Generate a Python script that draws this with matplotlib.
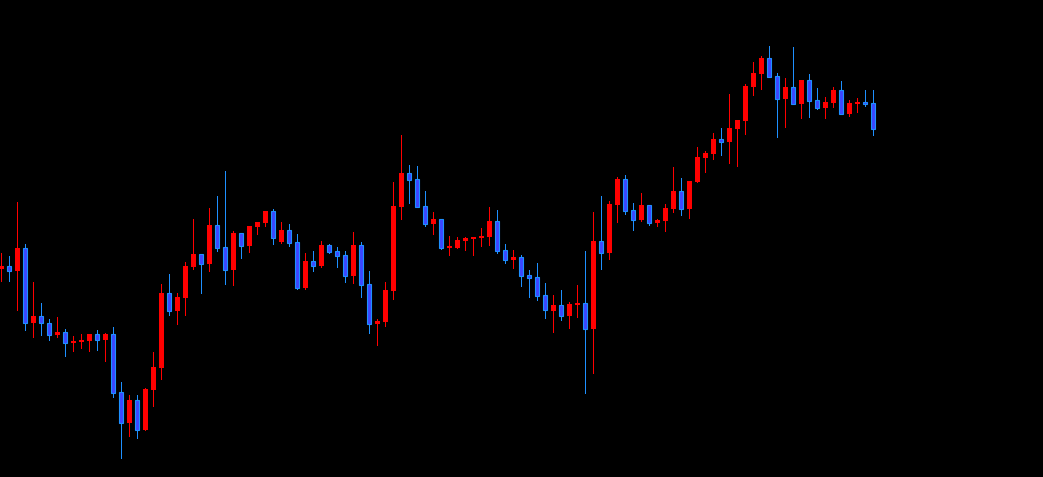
import matplotlib
matplotlib.use('Agg')
import matplotlib.pyplot as plt

# Candle data (price units), one entry per bar
opens = [208, 211, 206.3, 229, 154.3, 161, 153.7, 142.3, 145, 134.3,
         135.3, 136.3, 143, 137.3, 143, 85, 54.3, 77, 47.3, 87.3,
         109.3, 184, 166.3, 179.3, 210.3, 223, 213.3, 252, 229.7, 207.3,
         244, 231.3, 250.3, 254.3, 266, 235.3, 247, 235, 189.3, 216,
         211.3, 232, 226.3, 222, 201.3, 232, 193, 153.3, 155.3, 186.3,
         270.3, 304, 298, 271, 253.3, 258, 229.3, 229.3, 236.3, 238.3,
         239.3, 240.3, 256, 227, 217.3, 220, 202, 200, 182, 166.3,
         172, 161.3, 172.3, 174, 148.3, 236, 224.3, 272.3, 298, 267,
         257.3, 272, 254.3, 256.3, 268.3, 286, 268.3, 295.3, 319.3, 323.3,
         338, 335.3, 348.3, 356.3, 390.3, 403.3, 419, 401, 378.3, 390,
         373.3, 397, 377, 369.3, 374.3, 387, 363.3, 373.3, 375.3, 374]
highs = [224, 221, 275, 233, 195, 174, 157.7, 160.3, 147.7, 141,
         143, 143, 147, 143.7, 150, 95, 82, 82, 89, 125,
         193, 203, 184, 215, 258, 223, 269, 281, 306, 246,
         244, 251, 255, 266, 268, 255, 253, 243, 224, 226,
         236, 233, 230, 226, 245, 235, 206, 158, 195, 295,
         342, 312, 311, 286, 265, 258, 241, 240, 240, 240,
         249, 270, 267, 233, 227, 222, 207.3, 214, 194, 182,
         187, 175, 192, 226, 265, 281, 276, 300, 302, 274,
         284, 272, 258.3, 273, 310, 299, 296, 330, 326, 344,
         349, 383, 357, 393, 415, 421, 431, 404, 399, 430,
         397, 403, 389, 380, 390, 396, 377, 379, 387, 387]
lows = [196.3, 196.3, 167, 147, 140.3, 142, 137, 139.7, 121.3, 126,
        129, 126, 127.3, 116, 80.3, 19.3, 41.3, 39.3, 47.3, 71.3,
        98.3, 162.3, 153.3, 162.3, 208, 184.3, 206.3, 226.3, 193.3, 192.3,
        219.3, 225.3, 243.3, 251.3, 233.3, 234.3, 231.3, 188.3, 188.3, 206.3,
        210.3, 224.3, 210.3, 195.3, 194.3, 180.3, 144.3, 132.3, 151.3, 178.3,
        258.3, 274.3, 270.3, 251.3, 243.3, 228.3, 222.3, 229.3, 227.3, 222.3,
        231.3, 232.3, 224.3, 214.3, 209.3, 191.3, 180.3, 177.3, 159.3, 145.3,
        157.3, 149.3, 160.3, 84.3, 104.3, 208.3, 218.3, 255.3, 263.3, 247.3,
        256.3, 252.3, 251.3, 246.3, 265.3, 262.3, 259.3, 295.3, 305.3, 318.3,
        322.3, 314.3, 311.3, 343.3, 382.3, 388.3, 400.3, 340.3, 350.3, 373.3,
        359.3, 360.3, 368.3, 359.3, 370.3, 363.3, 361.3, 365.3, 371.3, 342.3]
closes = [211, 206.3, 229, 154.3, 161, 153.7, 142.3, 145, 134.3, 136.3,
          137.3, 143, 137.3, 143, 84.3, 54.3, 77, 47.3, 88, 110,
          184, 166.3, 180, 211, 223, 213.3, 252, 229.3, 207.3, 244,
          231.3, 251, 255, 266, 239.3, 247, 234.3, 189.3, 216, 211.3,
          232, 225.3, 221.3, 201.3, 232, 192.3, 153.3, 156, 187, 271,
          304, 297.3, 270.3, 253.3, 258, 229.3, 230, 237, 239, 240,
          241, 256, 226.3, 217.3, 220, 201.3, 199.3, 181.3, 166.7, 172,
          161.3, 173, 174, 148.3, 236, 224.3, 273, 298, 266.3, 257.3,
          272, 254.3, 257.3, 269, 286, 268.3, 296, 320, 324, 338,
          335.3, 349, 357, 391, 404, 419, 400.3, 378.3, 390, 373.3,
          397, 376.3, 369.3, 375, 387, 363.3, 374, 375.3, 373.3, 348.3]

n = len(opens)
x = list(range(n))

# Colours: red for rising bars, blue for falling bars
up_color = '#FF0000'
down_fill = '#3C46FF'
down_edge = '#1E90FF'

fig = plt.figure(figsize=(10.43, 4.771), dpi=100, facecolor='black')
ax = fig.add_axes([0, 0, 1, 1])
ax.set_facecolor('black')

for i in x:
    o, h, l, c = opens[i], highs[i], lows[i], closes[i]
    up = c >= o
    wick_color = up_color if up else down_edge
    ax.vlines(i, l, h, color=wick_color, linewidth=0.7, antialiased=False, zorder=1)
    bottom = min(o, c)
    height = max(abs(c - o), 1.2)
    if up:
        ax.bar(i, height, bottom=bottom, width=0.62, color=up_color,
               edgecolor=up_color, linewidth=0, zorder=2)
    else:
        ax.bar(i, height, bottom=bottom, width=0.52, color=down_fill,
               edgecolor=down_edge, linewidth=0.8, zorder=2)

# one candle every 8 px, first one near the left edge
ax.set_xlim(-0.1625, 130.21)
ax.set_ylim(0, 477)
ax.axis('off')

fig.savefig('out.png', dpi=100, facecolor='black')
